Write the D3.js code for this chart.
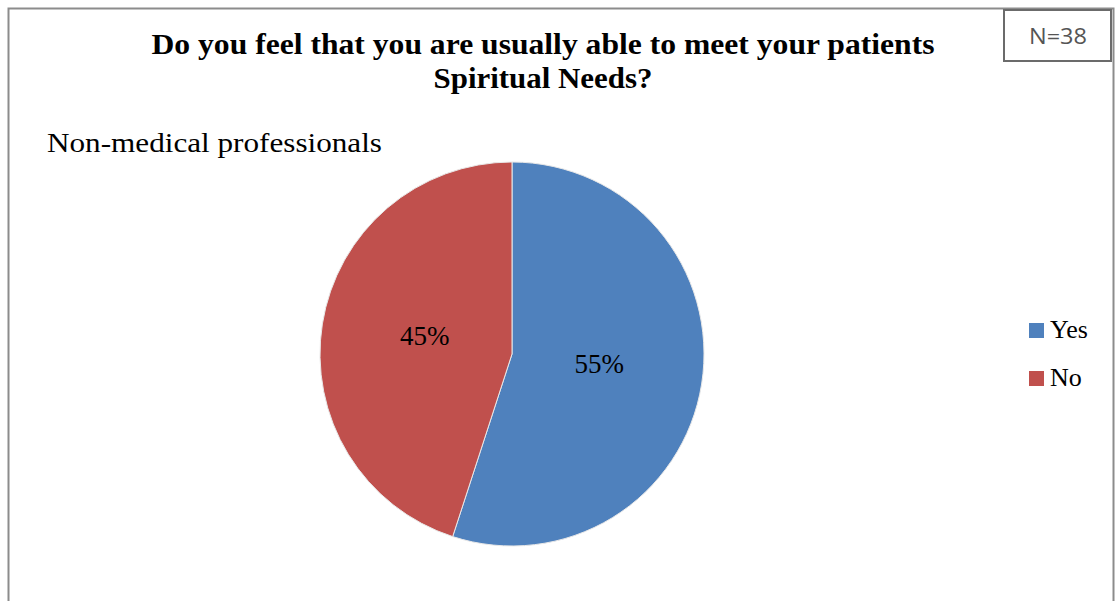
<!DOCTYPE html>
<html>
<head>
<meta charset="utf-8">
<script src="https://cdn.jsdelivr.net/npm/d3@7"></script>
<style>
  html, body { margin: 0; padding: 0; background: #fff; }
  svg { display: block; }
</style>
</head>
<body>
<svg id="chart" width="1116" height="601"></svg>
<script>
// Survey answers (share of respondents, %)
const categories = ["Yes", "No"];
const values = [55, 45];
const colors = ["#4F81BD", "#C0504D"];
const titleLines = ["Do you feel that you are usually able to meet your patients", "Spiritual Needs?"];
const subtitle = "Non-medical professionals";
const sampleNote = "N=38";

const svg = d3.select("#chart");
const serif = "'Liberation Serif', 'DejaVu Serif', serif";

// outer chart frame
svg.append("rect")
  .attr("x", 8.5).attr("y", 8.5)
  .attr("width", 1105).attr("height", 620)
  .attr("fill", "#fff")
  .attr("stroke", "#8c8c8c").attr("stroke-width", 2);

// title (two centred lines, condensed bold serif)
const title = svg.append("g");
title.append("text")
  .attr("x", 543).attr("y", 54)
  .attr("text-anchor", "middle")
  .attr("font-family", serif).attr("font-weight", "bold").attr("font-size", 30)
  .attr("textLength", 783).attr("lengthAdjust", "spacingAndGlyphs")
  .text(titleLines[0]);
title.append("text")
  .attr("x", 543).attr("y", 88)
  .attr("text-anchor", "middle")
  .attr("font-family", serif).attr("font-weight", "bold").attr("font-size", 30)
  .attr("textLength", 219).attr("lengthAdjust", "spacingAndGlyphs")
  .text(titleLines[1]);

// subtitle
svg.append("text")
  .attr("x", 47).attr("y", 152)
  .attr("font-family", serif).attr("font-size", 28)
  .attr("textLength", 335).attr("lengthAdjust", "spacingAndGlyphs")
  .text(subtitle);

// sample size box
const nb = svg.append("g");
nb.append("rect")
  .attr("x", 1004).attr("y", 10).attr("width", 107).attr("height", 51)
  .attr("fill", "#fff").attr("stroke", "#6b6b6b").attr("stroke-width", 2);
nb.append("text")
  .attr("x", 1058).attr("y", 44)
  .attr("text-anchor", "middle")
  .attr("font-family", "'Open Sans', 'DejaVu Sans', sans-serif").attr("font-size", 21)
  .attr("fill", "#555")
  .attr("textLength", 58).attr("lengthAdjust", "spacingAndGlyphs")
  .text(sampleNote);

// pie
const cx = 512, cy = 354, R = 192;
const data = categories.map((c, i) => ({ cat: c, value: values[i], color: colors[i] }));
const pie = d3.pie().sort(null).value(d => d.value);
const arc = d3.arc().innerRadius(0).outerRadius(R);
const arcs = pie(data);

const g = svg.append("g").attr("transform", `translate(${cx},${cy})`);
g.selectAll("path").data(arcs).enter().append("path")
  .attr("d", arc)
  .attr("fill", d => d.data.color)
  .attr("stroke", "#e8e8e8").attr("stroke-width", 1);

const labelArc = d3.arc().innerRadius(R * 0.46).outerRadius(R * 0.46);
g.selectAll("text.pct").data(arcs).enter().append("text")
  .attr("class", "pct")
  .attr("transform", d => `translate(${labelArc.centroid(d)})`)
  .attr("text-anchor", "middle")
  .attr("dy", "0.18em")
  .attr("font-family", serif).attr("font-size", 27)
  .text(d => d.data.value + "%");

// legend
const legend = svg.append("g").attr("transform", "translate(1029,323)");
const item = legend.selectAll("g").data(data).enter().append("g")
  .attr("transform", (d, i) => `translate(0,${i * 48})`);
item.append("rect")
  .attr("width", 15).attr("height", 15)
  .attr("fill", d => d.color);
item.append("text")
  .attr("x", 21).attr("y", 15)
  .attr("font-family", serif).attr("font-size", 26)
  .text(d => d.cat);
</script>
</body>
</html>
